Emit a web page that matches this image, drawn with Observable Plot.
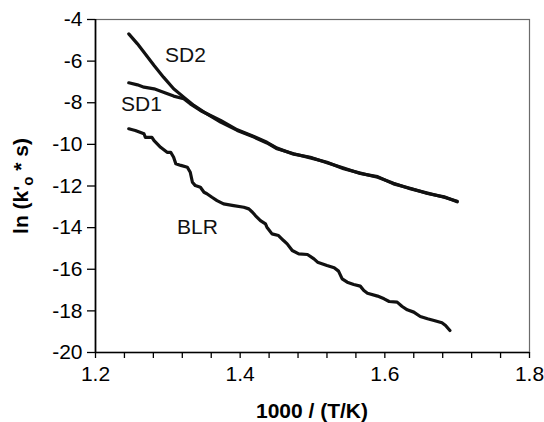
<!DOCTYPE html>
<html><head><meta charset="utf-8">
<script src="https://cdn.jsdelivr.net/npm/d3@7"></script>
<script src="https://cdn.jsdelivr.net/npm/@observablehq/plot@0.6"></script>
<style>body{margin:0;background:#fff;}</style>
</head><body><div id="chart"></div>
<script>
// Series values
const sd2X = [1.246,1.258,1.267,1.281,1.294,1.308,1.322,1.336,1.350,1.373,1.396,1.419,1.437,1.451,1.474,1.497,1.520,1.543,1.566,1.590,1.612,1.636,1.659,1.682,1.700];
const sd2Y = [-4.69,-5.17,-5.57,-6.21,-6.77,-7.33,-7.73,-8.13,-8.45,-8.93,-9.33,-9.65,-9.93,-10.21,-10.45,-10.65,-10.86,-11.17,-11.38,-11.58,-11.87,-12.14,-12.34,-12.54,-12.73];
const sd1X = [1.246,1.258,1.267,1.281,1.294,1.308,1.322,1.331,1.345,1.354,1.373,1.396,1.419,1.437,1.451,1.474,1.497,1.520,1.543,1.566,1.590,1.612,1.636,1.659,1.682,1.700];
const sd1Y = [-7.04,-7.14,-7.25,-7.33,-7.49,-7.68,-7.81,-8.05,-8.37,-8.53,-8.85,-9.30,-9.62,-9.90,-10.18,-10.47,-10.62,-10.88,-11.14,-11.40,-11.55,-11.90,-12.12,-12.36,-12.52,-12.76];
const blrX = [1.246,1.255,1.267,1.269,1.278,1.281,1.290,1.299,1.304,1.308,1.311,1.318,1.327,1.331,1.334,1.338,1.345,1.350,1.354,1.361,1.368,1.377,1.391,1.405,1.412,1.417,1.421,1.428,1.435,1.437,1.444,1.453,1.460,1.465,1.472,1.481,1.493,1.502,1.507,1.520,1.530,1.536,1.541,1.548,1.557,1.566,1.571,1.576,1.590,1.599,1.606,1.617,1.624,1.631,1.640,1.649,1.659,1.668,1.679,1.684,1.690];
const blrY = [-9.25,-9.33,-9.49,-9.66,-9.66,-9.82,-10.14,-10.38,-10.38,-10.62,-10.93,-11.01,-11.10,-11.34,-11.82,-11.98,-12.06,-12.30,-12.37,-12.54,-12.70,-12.86,-12.94,-13.02,-13.10,-13.26,-13.42,-13.66,-13.82,-13.98,-14.30,-14.38,-14.62,-14.78,-15.10,-15.26,-15.29,-15.50,-15.66,-15.82,-15.93,-16.09,-16.46,-16.62,-16.73,-16.81,-17.02,-17.15,-17.29,-17.42,-17.55,-17.58,-17.79,-17.95,-18.06,-18.27,-18.38,-18.46,-18.57,-18.70,-18.94];

// Labels and ticks
const seriesNames = ["SD2", "SD1", "BLR"];
const labelX = [1.3244, 1.2636, 1.341];
const labelY = [-5.73, -8.06, -13.97];
const yTicks = [-4,-6,-8,-10,-12,-14,-16,-18,-20];
const xMajor = [1.2,1.4,1.6,1.8];
const xMinor = [1.24,1.28,1.32,1.36,1.44,1.48,1.52,1.56,1.64,1.68,1.72,1.76];
const xTitle = "1000 / (T/K)";

const data = [];
function add(name, xs, ys) { xs.forEach((x, i) => data.push({series: name, x, y: ys[i]})); }
add("SD2", sd2X, sd2Y);
add("SD1", sd1X, sd1Y);
add("BLR", blrX, blrY);
const labels = seriesNames.map((s, i) => ({text: s, x: labelX[i], y: labelY[i]}));

const font = "'Liberation Sans', Arial, Helvetica, sans-serif";
const chart = Plot.plot({
  width: 544, height: 422,
  marginLeft: 95, marginRight: 15, marginTop: 19, marginBottom: 70,
  style: {fontFamily: font, color: "#000", background: "#fff"},
  x: {domain: [1.2, 1.8]},
  y: {domain: [-20, -4]},
  marks: [
    Plot.frame({stroke: "#6b6b6b", strokeWidth: 1.2}),
    Plot.axisY({ticks: yTicks, tickSize: 8, tickPadding: 5, fontSize: 21, label: null, tickFormat: d => String(d), strokeWidth: 1.3}),
    Plot.axisX({ticks: xMinor, tickSize: 6, tickFormat: () => "", label: null, strokeWidth: 1.3}),
    Plot.axisX({ticks: xMajor, tickSize: 6, tickPadding: 8, fontSize: 21, label: null, tickFormat: d => d.toFixed(1), strokeWidth: 1.3}),
    Plot.ruleX([1.2], {stroke: "#000", strokeWidth: 1.7}),
    Plot.ruleY([-20], {stroke: "#000", strokeWidth: 1.7}),
    Plot.line(data, {x: "x", y: "y", z: "series", stroke: "#111", strokeWidth: 3.2, strokeLinejoin: "round"}),
    Plot.text(labels, {x: "x", y: "y", text: "text", fontSize: 21, fill: "#111"})
  ]
});
document.getElementById("chart").appendChild(chart);

const svg = d3.select(chart);
svg.append("text")
  .attr("x", 312).attr("y", 418)
  .attr("text-anchor", "middle")
  .attr("font-family", font).attr("font-size", 21).attr("font-weight", "bold")
  .attr("fill", "#000")
  .text(xTitle);
const yl = svg.append("text")
  .attr("transform", "translate(28,186) rotate(-90)")
  .attr("text-anchor", "middle")
  .attr("font-family", font).attr("font-size", 21).attr("font-weight", "bold")
  .attr("fill", "#000");
yl.append("tspan").text("ln (k'");
yl.append("tspan").attr("font-size", 15).attr("dy", 5).text("o");
yl.append("tspan").attr("dy", -5).text(" * s)");
</script>
</body></html>
